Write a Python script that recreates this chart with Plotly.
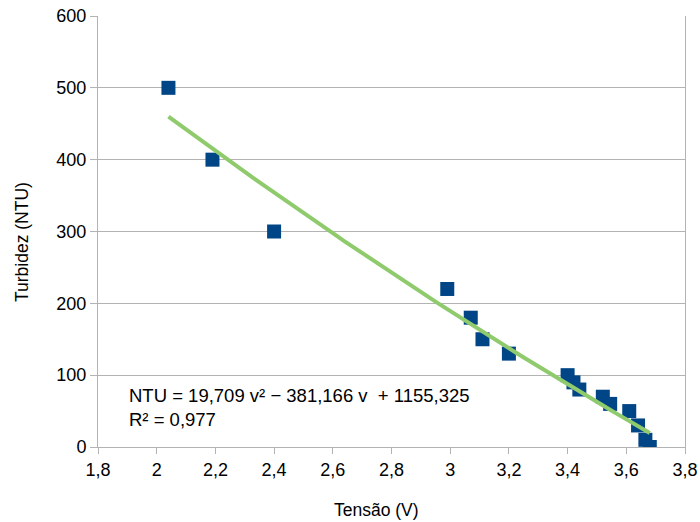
import numpy as np
import plotly.graph_objects as go

tensao = [2.04, 2.19, 2.40, 2.99, 3.07, 3.11, 3.20, 3.40, 3.42, 3.44, 3.52, 3.545, 3.61, 3.64, 3.665, 3.68]
turbidez = [500, 400, 300, 220, 180, 150, 130, 100, 90, 80, 70, 60, 50, 30, 10, 0]

# trendline coefficients shown on the chart (a*v^2 + b*v + c)
coef = [19.709, -381.166, 1155.325]
eq_text = "NTU = 19,709 v² − 381,166 v  + 1155,325<br>R² = 0,977"

x_title = "Tensão (V)"
y_title = "Turbidez (NTU)"
x_ticks = [1.8, 2.0, 2.2, 2.4, 2.6, 2.8, 3.0, 3.2, 3.4, 3.6, 3.8]
y_ticks = [0, 100, 200, 300, 400, 500, 600]

xt = np.linspace(min(tensao), max(tensao), 100)
yt = np.polyval(coef, xt)

grid = "#b3b3b3"
font = "Liberation Sans, Arial, sans-serif"

fig = go.Figure()
fig.add_trace(go.Scatter(
    x=tensao, y=turbidez, mode="markers",
    marker=dict(symbol="square", size=14, color="#004586"),
    showlegend=False,
))
fig.add_trace(go.Scatter(
    x=xt, y=yt, mode="lines",
    line=dict(color="#8fcb6c", width=4),
    showlegend=False,
))
fig.add_annotation(
    x=1.899, y=55, xref="x", yref="y", text=eq_text, showarrow=False,
    xanchor="left", yanchor="middle", align="left",
    font=dict(family=font, size=18.5, color="#000000"),
)
# axis titles
fig.add_annotation(
    x=0.4736, y=0, xref="paper", yref="paper", yshift=-63,
    text=x_title, showarrow=False, xanchor="center", yanchor="middle",
    font=dict(family=font, size=17.5, color="#000000"),
)
fig.add_annotation(
    x=0, y=0.4756, xref="paper", yref="paper", xshift=-76,
    text=y_title, showarrow=False, textangle=-90,
    xanchor="center", yanchor="middle",
    font=dict(family=font, size=17.5, color="#000000"),
)

fig.update_layout(
    width=700, height=522,
    margin=dict(l=98, r=15, t=16, b=75, autoexpand=False),
    paper_bgcolor="white", plot_bgcolor="white",
    separators=",.",
    font=dict(family=font, size=18, color="#000000"),
    xaxis=dict(
        range=[1.8, 3.8], tickvals=x_ticks, showgrid=False,
        showline=True, linecolor=grid, linewidth=1,
        ticks="outside", ticklen=6, tickcolor=grid,
        zeroline=False, ticklabeloverflow="allow", automargin=False,
    ),
    yaxis=dict(
        range=[0, 600], tickvals=y_ticks, showgrid=True, gridcolor=grid,
        showline=True, linecolor=grid, linewidth=1, mirror=True,
        ticks="outside", ticklen=7, tickcolor=grid,
        zeroline=False, ticklabeloverflow="allow", automargin=False,
    ),
)

fig.write_html(
    "out.html",
    config={"displayModeBar": False},
    post_script="document.body.style.margin='0';",
)
